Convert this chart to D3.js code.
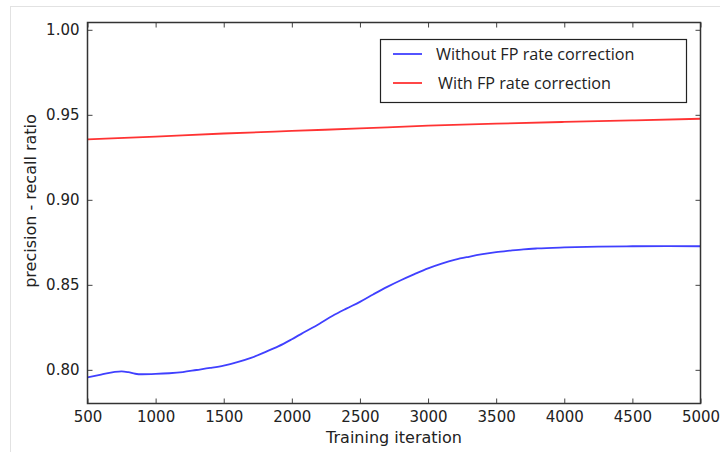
<!DOCTYPE html>
<html><head><meta charset="utf-8">
<script src="https://cdn.jsdelivr.net/npm/d3@7"></script>
<style>body{margin:0;background:#fff;} svg{display:block;}</style>
</head><body>
<svg id="c" width="720" height="452"></svg>
<script>
const iterBlue = [500,600,700,750,800,850,900,1000,1100,1200,1300,1400,1500,1600,1700,1800,1900,2000,2100,2200,2300,2400,2500,2600,2700,2800,2900,3000,3100,3200,3300,3400,3500,3600,3700,3800,4000,4250,4500,4750,5000];
const withoutFP = [0.7955,0.7972,0.7988,0.7991,0.7986,0.7977,0.7974,0.7976,0.7980,0.7987,0.7999,0.8011,0.8025,0.8045,0.8070,0.8103,0.8138,0.8180,0.8225,0.8270,0.8318,0.8360,0.8400,0.8445,0.8488,0.8527,0.8563,0.8597,0.8625,0.8648,0.8665,0.8680,0.8692,0.8701,0.8709,0.8714,0.8720,0.8725,0.8727,0.8728,0.8727];
const iterRed = [500,1000,1500,2000,2500,3000,3500,4000,4500,5000];
const withFP = [0.9355,0.9372,0.9390,0.9405,0.9420,0.9436,0.9448,0.9458,0.9467,0.9477];
const xTicks = [500,1000,1500,2000,2500,3000,3500,4000,4500,5000];
const yTicks = [0.80,0.85,0.90,0.95,1.00];
const seriesNames = ["Without FP rate correction","With FP rate correction"];
const seriesColors = ["#4040ff","#ff3333"];

const svg = d3.select("#c");
// faint frame lines of the picture
svg.append("line").attr("x1",10.5).attr("x2",10.5).attr("y1",6).attr("y2",452).attr("stroke","#e2e2e2");
svg.append("line").attr("x1",10).attr("x2",720).attr("y1",6.5).attr("y2",6.5).attr("stroke","#e2e2e2");

const L=87.5, R=700.5, T=22.5, B=403.5;
const x = d3.scaleLinear().domain([500,5000]).range([L,R]);
const y = d3.scaleLinear().domain([0.7802,1.0043]).range([B,T]);

const font = "DejaVu Sans";
const gx = svg.append("g").attr("transform",`translate(0,${B})`)
  .call(d3.axisBottom(x).tickValues(xTicks).tickFormat(d3.format("d")).tickSizeInner(-5).tickSizeOuter(0).tickPadding(8));
const gxt = svg.append("g").attr("transform",`translate(0,${T})`)
  .call(d3.axisTop(x).tickValues(xTicks).tickFormat("").tickSizeInner(-5).tickSizeOuter(0));
const gy = svg.append("g").attr("transform",`translate(${L},0)`)
  .call(d3.axisLeft(y).tickValues(yTicks).tickFormat(d3.format(".2f")).tickSizeInner(-5).tickSizeOuter(0).tickPadding(8));
const gyr = svg.append("g").attr("transform",`translate(${R},0)`)
  .call(d3.axisRight(y).tickValues(yTicks).tickFormat("").tickSizeInner(-5).tickSizeOuter(0));
[gx,gxt,gy,gyr].forEach(g=>{
  g.select(".domain").remove();
  g.selectAll("line").attr("stroke","#444").attr("stroke-width",1);
  g.selectAll("text").attr("font-family",font).attr("font-size",15).attr("fill","#222");
});

const line = d3.line().curve(d3.curveMonotoneX);
svg.append("path").attr("d",line(iterBlue.map((d,i)=>[x(d),y(withoutFP[i])])))
  .attr("fill","none").attr("stroke",seriesColors[0]).attr("stroke-width",1.8);
svg.append("path").attr("d",line(iterRed.map((d,i)=>[x(d),y(withFP[i])])))
  .attr("fill","none").attr("stroke",seriesColors[1]).attr("stroke-width",1.8);

svg.append("rect").attr("x",L).attr("y",T).attr("width",R-L).attr("height",B-T)
  .attr("fill","none").attr("stroke","#333").attr("stroke-width",1.5);

svg.append("text").attr("x",394).attr("y",443).attr("text-anchor","middle")
  .attr("font-family",font).attr("font-size",16).attr("fill","#222").text("Training iteration");
svg.append("text").attr("transform","translate(36,201) rotate(-90)").attr("text-anchor","middle")
  .attr("font-family",font).attr("font-size",16).attr("fill","#222").text("precision - recall ratio");

// legend
const lg = svg.append("g");
lg.append("rect").attr("x",380.5).attr("y",39.5).attr("width",306).attr("height",63)
  .attr("fill","#fff").attr("stroke","#222").attr("stroke-width",1.2);
seriesNames.forEach((n,i)=>{
  const yy = [54,83][i];
  lg.append("line").attr("x1",393).attr("x2",422).attr("y1",yy).attr("y2",yy)
    .attr("stroke",seriesColors[i]).attr("stroke-width",1.8);
  lg.append("text").attr("x",[436,438][i]).attr("y",yy+5.5).attr("font-family","Open Sans")
    .attr("font-size",16.2).attr("fill","#222").text(n);
});
</script>
</body></html>
